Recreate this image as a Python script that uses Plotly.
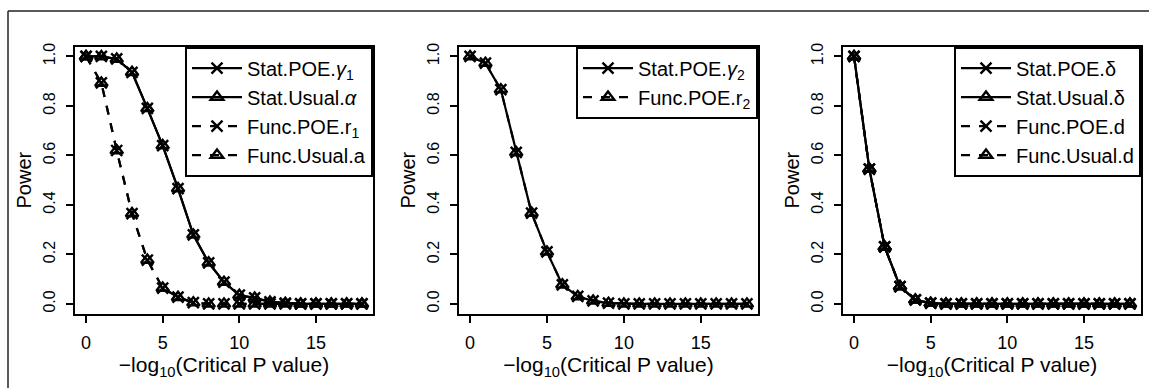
import plotly.graph_objects as go

W, H = 1149, 388
x_vals = list(range(19))

# Panel 1
p1_stat = [1.0, 1.0, 0.99, 0.936, 0.79, 0.64, 0.466, 0.279, 0.166, 0.088, 0.035, 0.024, 0.008, 0.003, 0.0, 0.0, 0.0, 0.0, 0.0]
p1_func = [1.0, 0.893, 0.62, 0.365, 0.177, 0.064, 0.027, 0.005, 0.0, 0.0, 0.0, 0.0, 0.0, 0.0, 0.0, 0.0, 0.0, 0.0, 0.0]
# Panel 2
p2_stat = [1.0, 0.973, 0.866, 0.612, 0.367, 0.21, 0.077, 0.03, 0.012, 0.003, 0.0, 0.0, 0.0, 0.0, 0.0, 0.0, 0.0, 0.0, 0.0]
p2_func = [1.0, 0.973, 0.866, 0.612, 0.367, 0.21, 0.077, 0.03, 0.012, 0.003, 0.0, 0.0, 0.0, 0.0, 0.0, 0.0, 0.0, 0.0, 0.0]
# Panel 3
p3_stat = [1.0, 0.545, 0.23, 0.07, 0.016, 0.003, 0.0, 0.0, 0.0, 0.0, 0.0, 0.0, 0.0, 0.0, 0.0, 0.0, 0.0, 0.0, 0.0]
p3_func = [1.0, 0.545, 0.23, 0.07, 0.016, 0.003, 0.0, 0.0, 0.0, 0.0, 0.0, 0.0, 0.0, 0.0, 0.0, 0.0, 0.0, 0.0, 0.0]

x_ticks = [0, 5, 10, 15]
y_ticks = [0.0, 0.2, 0.4, 0.6, 0.8, 1.0]
y_ticklabels = ["0.0", "0.2", "0.4", "0.6", "0.8", "1.0"]

FONT = "Liberation Sans, Arial, sans-serif"

fig = go.Figure()

def add(x, y, name, sym, dash, xa, ya, leg):
    fig.add_trace(go.Scatter(
        x=x, y=y, name=name, mode="lines+markers",
        line=dict(color="black", width=2.2, dash=dash),
        marker=dict(symbol=sym, size=11, color="black",
                    line=dict(color="black", width=2.4)),
        xaxis=xa, yaxis=ya, legend=leg, showlegend=True))

add(x_vals, p1_stat, "Stat.POE.<i>γ</i><sub>1</sub>", "x-thin-open", "solid", "x", "y", "legend")
add(x_vals, p1_stat, "Stat.Usual.<i>α</i>", "triangle-up-open", "solid", "x", "y", "legend")
add(x_vals, p1_func, "Func.POE.r<sub>1</sub>", "x-thin-open", "dash", "x", "y", "legend")
add(x_vals, p1_func, "Func.Usual.a", "triangle-up-open", "dash", "x", "y", "legend")

add(x_vals, p2_stat, "Stat.POE.<i>γ</i><sub>2</sub>", "x-thin-open", "solid", "x2", "y2", "legend2")
add(x_vals, p2_func, "Func.POE.r<sub>2</sub>", "triangle-up-open", "dash", "x2", "y2", "legend2")

add(x_vals, p3_stat, "Stat.POE.δ", "x-thin-open", "solid", "x3", "y3", "legend3")
add(x_vals, p3_stat, "Stat.Usual.δ", "triangle-up-open", "solid", "x3", "y3", "legend3")
add(x_vals, p3_func, "Func.POE.d", "x-thin-open", "dash", "x3", "y3", "legend3")
add(x_vals, p3_func, "Func.Usual.d", "triangle-up-open", "dash", "x3", "y3", "legend3")

panels = [(75, 373), (459, 758), (843, 1141)]
top, bot = 43, 313
ydom = [1 - bot / H, 1 - top / H]

axis_common = dict(showline=True, linecolor="black", linewidth=2, mirror=True,
                   ticks="outside", ticklen=7, tickwidth=2, tickcolor="black",
                   showgrid=False, zeroline=False)

layout = dict(width=W, height=H, margin=dict(l=0, r=0, t=0, b=0),
              plot_bgcolor="white", paper_bgcolor="white",
              font=dict(family=FONT, size=18, color="black"))

for i, (l, r) in enumerate(panels):
    sfx = "" if i == 0 else str(i + 1)
    layout["xaxis" + sfx] = dict(
        domain=[l / W, r / W], range=[-0.72, 18.72], tickvals=x_ticks,
        anchor="y" + sfx, ticklabelstandoff=5,
        tickfont=dict(family=FONT, size=18, color="black"),
        title=dict(text="−log<sub>10</sub>(Critical P value)", standoff=0,
                   font=dict(family=FONT, size=21)),
        **axis_common)
    layout["yaxis" + sfx] = dict(
        domain=ydom, range=[-0.04, 1.04], tickvals=y_ticks, ticktext=y_ticklabels,
        tickangle=-90, anchor="x" + sfx, ticklabelstandoff=5,
        tickfont=dict(family=FONT, size=16, color="black"),
        title=dict(text="Power", standoff=4, font=dict(family=FONT, size=20)),
        **axis_common)
    layout["legend" + sfx] = dict(
        x=r / W, y=1 - top / H, xanchor="right", yanchor="top",
        bgcolor="white", bordercolor="black", borderwidth=2,
        font=dict(family=FONT, size=20, color="black"),
        itemwidth=50, tracegroupgap=0)

fig.update_layout(**layout)

# outer frame (left and top edges)
fig.add_shape(type="line", xref="paper", yref="paper",
              x0=8 / W, y0=0, x1=8 / W, y1=1 - 7 / H,
              line=dict(color="#222", width=1.5))
fig.add_shape(type="line", xref="paper", yref="paper",
              x0=8 / W, y0=1 - 7 / H, x1=1, y1=1 - 7 / H,
              line=dict(color="#222", width=1.5))

fig.write_html("out.html")
